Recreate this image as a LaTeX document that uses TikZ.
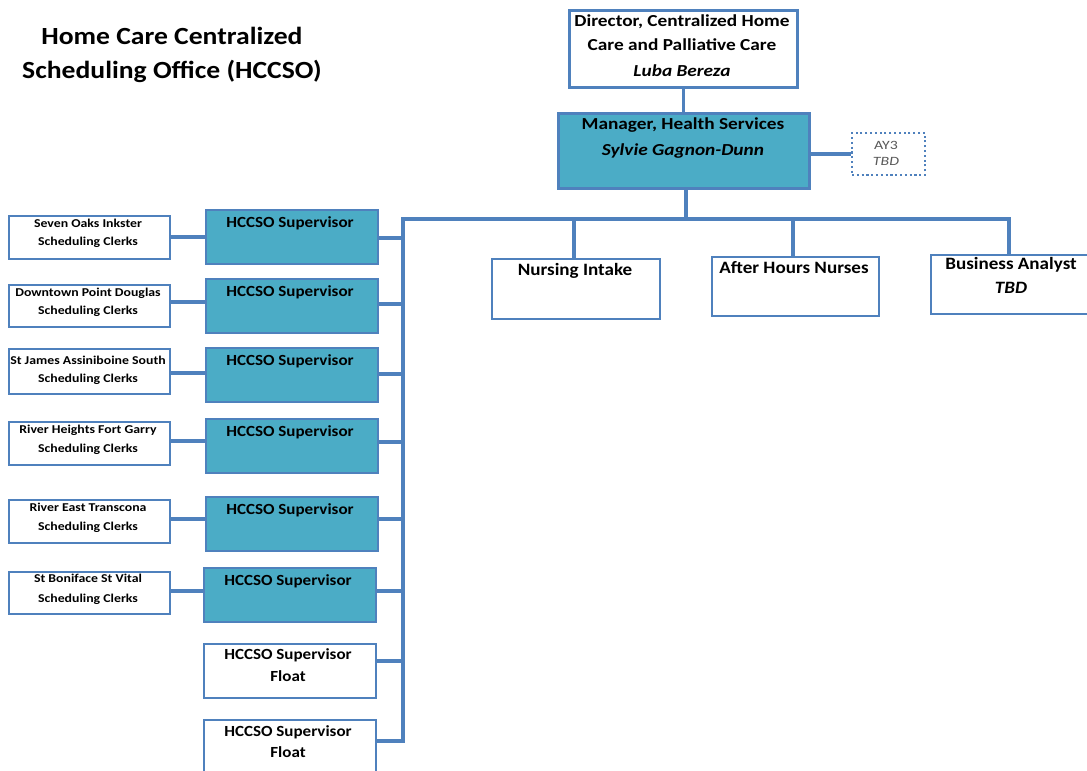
\documentclass[tikz,border=0pt]{standalone}
\usepackage{fontspec}
\setmainfont{Carlito}
\newfontfamily\fA[FakeStretch=1.1]{Carlito}
\newfontfamily\fB[FakeStretch=1.15]{Carlito}
\newfontfamily\fC[FakeStretch=1.12]{Carlito}
\newfontfamily\fD[FakeStretch=1.25]{Carlito}
\definecolor{lineblue}{RGB}{79,129,189}
\definecolor{tealfill}{RGB}{75,172,198}
\definecolor{graytxt}{RGB}{89,89,89}
\newcommand\mkbox[6]{\node[#2, anchor=north west, minimum width={(#5-#3)*0.75pt}, minimum height={(#6-#4)*0.75pt}] (#1) at (#3,#4) {};}
\begin{document}
\begin{tikzpicture}[x=0.75pt,y=-0.75pt]
\tikzset{
  ln/.style={draw=lineblue, line width=2.6pt},
  wbox/.style={draw=lineblue, line width=1.6pt, fill=white, rectangle, inner sep=0pt},
  tbox/.style={draw=lineblue, line width=1.6pt, fill=tealfill, rectangle, inner sep=0pt},
  bigbox/.style={line width=2.4pt},
  dotbox/.style={draw=lineblue, line width=1.6pt, dotted, fill=white, rectangle, inner sep=0pt},
  ttl/.style={font=\fC\bfseries\fontsize{18.5}{22}\selectfont, anchor=base, inner sep=0pt},
  txt/.style={font=\fB\bfseries\fontsize{12.6}{15}\selectfont, anchor=base, inner sep=0pt},
  stxt/.style={font=\fA\bfseries\fontsize{11.6}{14}\selectfont, anchor=base, inner sep=0pt},
  ntxt/.style={font=\fA\bfseries\fontsize{13}{15}\selectfont, anchor=base, inner sep=0pt},
  ctxt/.style={font=\fB\bfseries\fontsize{9}{10}\selectfont, anchor=base, inner sep=0pt},
  atxt/.style={font=\fD\fontsize{9.5}{11}\selectfont, text=graytxt, anchor=base, inner sep=0pt}
}
\useasboundingbox (0,0) rectangle (1087,770);

% title
\node[ttl] (t1) at (172,45) {Home Care Centralized};
\node[ttl] (t2) at (172,79) {Scheduling Office (HCCSO)};

\coordinate (busL) at (403,219);
\coordinate (busR) at (1009,219);
\coordinate (busB) at (403,741);
\coordinate (busM) at (686,219);
\coordinate (d1) at (574,219);
\coordinate (d2) at (793,219);

% boxes
\mkbox{dir}{wbox,bigbox}{568}{9}{796}{86}
\mkbox{mgr}{tbox,bigbox}{557}{112}{808}{187}
\mkbox{ay}{dotbox}{851}{132}{924}{174}
\mkbox{ni}{wbox}{491}{258}{659}{318}
\mkbox{ah}{wbox}{711}{256}{878}{315}
\mkbox{ba}{wbox}{930}{254}{1090}{313}

\mkbox{s1}{tbox}{205}{209}{377}{263}
\mkbox{s2}{tbox}{205}{278}{377}{332}
\mkbox{s3}{tbox}{205}{347}{377}{401}
\mkbox{s4}{tbox}{205}{418}{377}{472}
\mkbox{s5}{tbox}{205}{496}{377}{550}
\mkbox{s6}{tbox}{203}{567}{375}{621}
\mkbox{s7}{wbox}{203}{643}{375}{697}
\mkbox{s8}{wbox}{203}{719}{375}{775}

\mkbox{c1}{wbox}{8}{215}{169}{258}
\mkbox{c2}{wbox}{8}{284}{169}{326}
\mkbox{c3}{wbox}{8}{348}{169}{393}
\mkbox{c4}{wbox}{8}{421}{169}{464}
\mkbox{c5}{wbox}{8}{499}{169}{542}
\mkbox{c6}{wbox}{8}{571}{169}{613}

% connectors
\draw[ln] (dir.south) -- (dir.south |- mgr.north);
\draw[ln] (mgr.east |- ay.west) -- (ay.west);
\draw[ln] (mgr.south -| busM) -- (busM);
\draw[ln, line cap=rect] (busB) -- (busL) -- (busR) -- (ba.north -| busR);
\draw[ln] (d1) -- (d1 |- ni.north);
\draw[ln] (d2) -- (d2 |- ah.north);
\foreach \s/\y in {s1/238, s2/304, s3/374, s4/442, s5/519, s6/591, s7/661, s8/741}{
  \draw[ln] (\s.east |- 0,\y) -- (403,\y);
}
\foreach \c/\s/\y in {c1/s1/237, c2/s2/302, c3/s3/373, c4/s4/441, c5/s5/519, c6/s6/591}{
  \draw[ln] (\c.east |- 0,\y) -- (\s.west |- 0,\y);
}

% texts
\node[txt] (dirt1) at (682,27) {Director, Centralized Home};
\node[txt] (dirt2) at (682,51) {Care and Palliative Care};
\node[txt] (dirt3) at (682,77) {\itshape Luba Bereza};
\node[txt] (mgrt1) at (683,130) {Manager, Health Services};
\node[txt] (mgrt2) at (683,156) {\itshape Sylvie Gagnon-Dunn};
\node[atxt] (ayt1) at (886,149) {AY3};
\node[atxt] (ayt2) at (886,166) {\itshape TBD};
\node[ntxt] (nit) at (575,275) {Nursing Intake};
\node[ntxt] (aht) at (794,273) {After Hours Nurses};
\node[ntxt] (bat1) at (1011,269) {Business Analyst};
\node[ntxt] (bat2) at (1011,293) {\itshape TBD};

\foreach \s/\y in {s1/227, s2/296, s3/365, s4/436, s5/514}{
  \node[stxt] (\s t) at (290,\y) {HCCSO Supervisor};
}
\node[stxt] (s6t) at (288,585) {HCCSO Supervisor};
\node[stxt] (s7t1) at (288,659) {HCCSO Supervisor};
\node[stxt] (s7t2) at (288,681) {Float};
\node[stxt] (s8t1) at (288,736) {HCCSO Supervisor};
\node[stxt] (s8t2) at (288,757) {Float};

\node[ctxt] (c1a) at (88,227) {Seven Oaks Inkster};
\node[ctxt] (c1b) at (88,245) {Scheduling Clerks};
\node[ctxt] (c2a) at (88,296) {Downtown Point Douglas};
\node[ctxt] (c2b) at (88,314) {Scheduling Clerks};
\node[ctxt] (c3a) at (88,364) {St James Assiniboine South};
\node[ctxt] (c3b) at (88,382) {Scheduling Clerks};
\node[ctxt] (c4a) at (88,433) {River Heights Fort Garry};
\node[ctxt] (c4b) at (88,452) {Scheduling Clerks};
\node[ctxt] (c5a) at (88,511) {River East Transcona};
\node[ctxt] (c5b) at (88,530) {Scheduling Clerks};
\node[ctxt] (c6a) at (88,582) {St Boniface St Vital};
\node[ctxt] (c6b) at (88,602) {Scheduling Clerks};
\end{tikzpicture}
\end{document}
